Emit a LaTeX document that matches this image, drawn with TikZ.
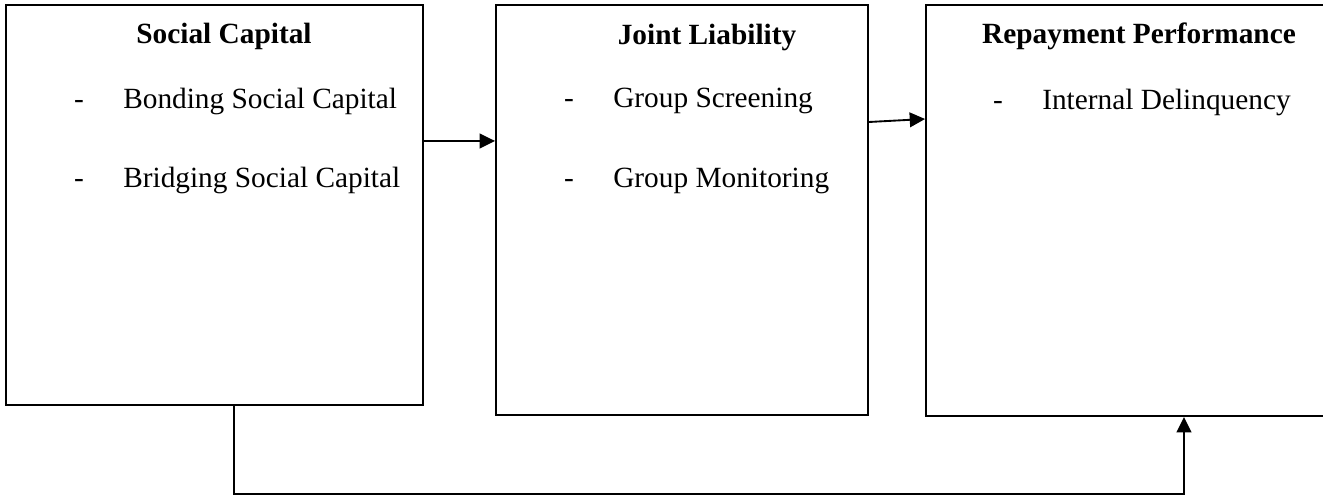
\documentclass[tikz,border=0pt]{standalone}
\usepackage{fontspec}
\setmainfont{Liberation Serif}
\usetikzlibrary{arrows.meta}

\tikzset{
    block/.style = {draw, line width=1.4pt, inner sep=0pt},
    title/.style = {anchor=base, inner sep=0pt, font=\fontsize{22}{26}\selectfont\bfseries},
    item/.style  = {anchor=base west, inner sep=0pt, font=\fontsize{22}{26}\selectfont},
    bullet/.style = {anchor=base, inner sep=0pt, font=\fontsize{22}{26}\selectfont},
    flow/.style  = {line width=1.4pt, -{Triangle[length=11.5pt, width=11pt]}}
}

\begin{document}
\begin{tikzpicture}[x=0.75pt, y=-0.75pt]
    \useasboundingbox (0,0) rectangle (1323,498);

    % boxes
    \node[block, minimum width=312.75pt, minimum height=300pt] (social) at (214.5,205) {};
    \node[block, minimum width=279pt, minimum height=307.5pt] (joint) at (682,210.25) {};
    \node[block, minimum width=303pt, minimum height=308pt] (perf) at (1128,210.75) {};

    % titles
    \node[title] (socialT) at (224,44) {Social Capital};
    \node[title] (jointT) at (707,45) {Joint Liability};
    \node[title] (perfT) at (1139,44) {Repayment Performance};

    % items
    \node[bullet] (d1) at (79,109) {-};
    \node[item] (bonding) at (123,109) {Bonding Social Capital};
    \node[bullet] (d2) at (79,188) {-};
    \node[item] (bridging) at (123,188) {Bridging Social Capital};

    \node[bullet] (d3) at (569,108) {-};
    \node[item] (screening) at (613,108) {Group Screening};
    \node[bullet] (d4) at (569,188) {-};
    \node[item] (monitoring) at (613,188) {Group Monitoring};

    \node[bullet] (d5) at (998,110) {-};
    \node[item] (delinq) at (1042,110) {Internal Delinquency};

    % connectors
    \draw[flow] (social.east |- 0,141) -- (joint.west |- 0,141);
    \draw[flow] (joint.east |- 0,122) -- (perf.west |- 0,119);
    \coordinate (low) at (234,494);
    \draw[flow] (social.south -| low) -- (low) -| (perf.south -| 1184,0);
\end{tikzpicture}
\end{document}
